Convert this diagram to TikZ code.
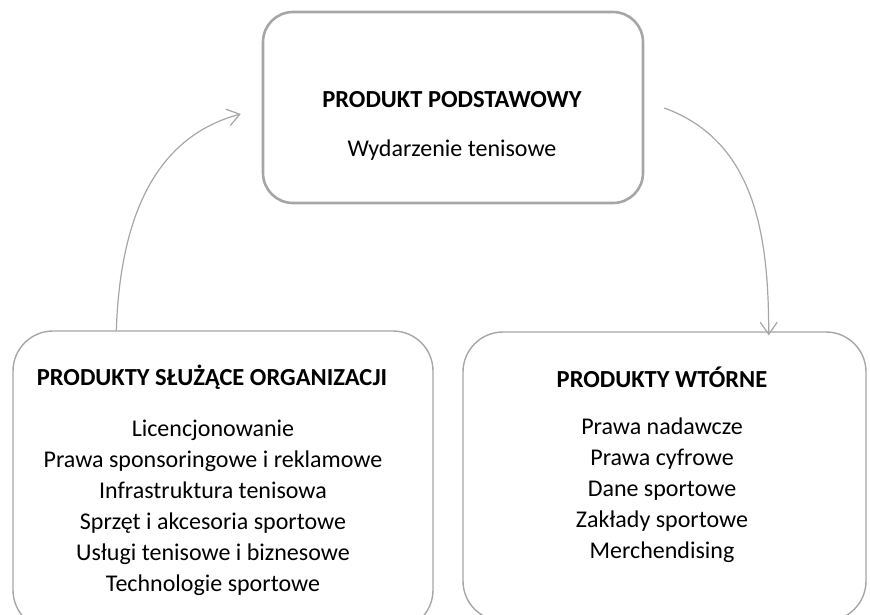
\documentclass[tikz,border=0pt]{standalone}
\usepackage{fontspec}
\setmainfont{Carlito}
\usetikzlibrary{arrows.meta}
\definecolor{edgegray}{HTML}{A6A6A6}
\begin{document}
\begin{tikzpicture}[x=1pt,y=-1pt,
  mainbox/.style={draw=edgegray, line width=2.6pt, rounded corners=30pt,
    minimum width=380pt, minimum height=191pt, inner sep=0pt},
  subbox/.style={draw=edgegray, line width=1.4pt, rounded corners=40pt, inner sep=0pt},
  heading/.style={font=\fontsize{24.5}{28}\selectfont\bfseries, inner sep=0pt},
  plain/.style={font=\fontsize{24}{28}\selectfont, inner sep=0pt},
  items/.style={font=\fontsize{24}{31}\selectfont, align=center, inner sep=0pt},
  flow/.style={draw=edgegray, line width=1.2pt,
    -{Straight Barb[length=12pt,width=17pt,line width=1.2pt]}}]
  \useasboundingbox (0,0) rectangle (870,614);
  \clip (0,0) rectangle (870,614);

  % boxes
  \node[mainbox] (core) at (453,107.5) {};
  \node[subbox, minimum width=420pt, minimum height=299pt] (org) at (223,480.5) {};
  \node[subbox, minimum width=403pt, minimum height=289pt] (sec) at (664.5,476.5) {};

  % texts of the central product
  \node[heading] (coreT) at (452,100) {PRODUKT PODSTAWOWY};
  \node[plain] (coreS) at (452,150) {Wydarzenie tenisowe};

  % texts of the organisational products
  \node[heading] (orgT) at (212,377) {PRODUKTY SŁUŻĄCE ORGANIZACJI};
  \node[items] (orgL) at (213,507.5) {Licencjonowanie\\Prawa sponsoringowe i reklamowe\\Infrastruktura tenisowa\\Sprzęt i akcesoria sportowe\\Usługi tenisowe i biznesowe\\Technologie sportowe};

  % texts of the secondary products
  \node[heading] (secT) at (662,377) {PRODUKTY WTÓRNE};
  \node[items] (secL) at (662,490.5) {Prawa nadawcze\\Prawa cyfrowe\\Dane sportowe\\Zakłady sportowe\\Merchendising};

  % cycle arrows
  \draw[flow] ([xshift=104pt]org.north west) to[out=88, in=195] ([xshift=-21pt,yshift=-6.5pt]core.west);
  \draw[flow] ([xshift=20pt,yshift=-0.5pt]core.east) to[out=-20, in=90] ([xshift=-98pt,yshift=-4pt]sec.north east);
\end{tikzpicture}
\end{document}
